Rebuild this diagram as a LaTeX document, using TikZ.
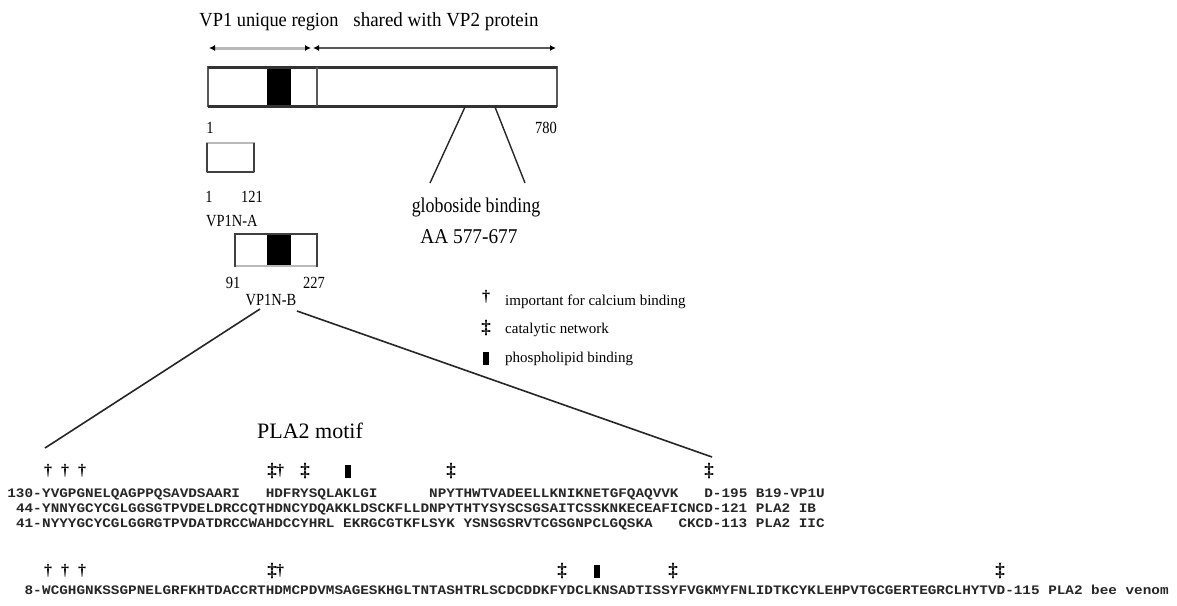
\documentclass[tikz,border=0pt]{standalone}
\usepackage{fontspec}
\usepackage{graphicx}
\setmainfont{Liberation Serif}
\newfontfamily\seqfont{Liberation Mono}
\usetikzlibrary{arrows.meta}
\newcommand\fsz[1]{\fontsize{#1}{#1}\selectfont}
\newcommand\sxs[2]{\scalebox{#1}[1]{#2}}
\newcommand\sq[1]{\sxs{1.1024}{#1}}
\begin{document}
\begin{tikzpicture}[x=1pt,y=-1pt,
  lbl/.style={inner sep=0pt, anchor=base, font=\fsz{20}},
  small/.style={inner sep=0pt, anchor=base, font=\fsz{17}},
  big/.style={inner sep=0pt, anchor=base, font=\fsz{21}},
  legtext/.style={inner sep=0pt, anchor=base west, font=\fsz{15}},
  seqrow/.style={inner sep=0pt, anchor=base west, font=\seqfont\fsz{13}\bfseries, text=black!85},
  seqnum/.style={inner sep=0pt, anchor=base east, font=\seqfont\fsz{13}\bfseries, text=black!85},
  calmark/.style={inner sep=0pt, font=\fsz{16}\bfseries},
  catmark/.style={inner sep=0pt, font=\fsz{19}\bfseries},
  phlmark/.style={inner sep=0pt, fill=black, minimum width=6pt, minimum height=13pt},
  conn/.style={black!85, line width=1.6pt},
  tipk/.style={Latex[length=6pt,width=6pt,black]}
]
\useasboundingbox (0,0) rectangle (1177,605);

% --- top labels and extent arrows
\node[lbl] (uniq) at (269,27) {\sxs{0.92}{VP1 unique region}};
\node[lbl] (shared) at (446,27) {\sxs{0.95}{shared with VP2 protein}};
\coordinate (uA) at (209,48);
\coordinate (uB) at (311,48);
\coordinate (sA) at (313,48);
\coordinate (sB) at (556,48);
\draw[{Latex[length=6pt,width=6pt,black]}-{Latex[length=6pt,width=6pt,black]}, gray!55, line width=3pt] (uA) -- (uB);
\draw[{Latex[length=6pt,width=6pt,black]}-{Latex[length=6pt,width=6pt,black]}, black!65, line width=2pt] (sA) -- (sB);

% --- VP1 full length bar
\fill[black] (267,67) rectangle (291,106);
\draw[gray!70!black, line width=1.5pt] (208,67) rectangle (557,106);
\draw[black!80, line width=3pt] (208,67) -- (557,67) (208,106) -- (557,106);
\draw[gray!70!black, line width=1.5pt] (317,67) -- (317,106);
\node[small] (one) at (210,133) {\sxs{0.85}{1}};
\node[small, anchor=base east] (n780) at (557,133) {\sxs{0.85}{780}};

% --- globoside binding
\coordinate (g1) at (465,107);
\coordinate (g2) at (495,107);
\node[big] (glob) at (476,212) {\sxs{0.85}{globoside binding}};
\node[big] (aa) at (469,243) {\sxs{0.92}{AA 577-677}};
\coordinate (g1e) at (430,183);
\coordinate (g2e) at (525,183);
\draw[conn, line width=1.4pt] (g1) -- (g1e);
\draw[conn, line width=1.4pt] (g2) -- (g2e);

% --- VP1N-A
\draw[gray!55, line width=2pt] (207,143) rectangle (254,172);
\draw[black!75, line width=2pt] (207,172) -- (254,172) (207,143) -- (207,172) (254,143) -- (254,172);
\node[small] (a1) at (209,202) {\sxs{0.85}{1}};
\node[small] (a121) at (252,202) {\sxs{0.85}{121}};
\node[small, anchor=base west] (vpna) at (206,226) {\sxs{0.85}{VP1N-A}};

% --- VP1N-B
\fill[black] (267,234) rectangle (291,266);
\draw[black!75, line width=2pt] (235,234) rectangle (317,266);
\draw[gray!55, line width=2pt] (236,266) -- (316,266);
\node[small] (b91) at (233,288) {\sxs{0.85}{91}};
\node[small] (b227) at (314,288) {\sxs{0.85}{227}};
\node[small] (vpnb) at (271,305) {\sxs{0.85}{VP1N-B}};

% --- legend
\node[calmark] (lg1) at (486,297) {\textdagger};
\node[legtext] (lt1) at (505,305) {important for calcium binding};
\node[catmark] (lg2) at (486,328) {\textdaggerdbl};
\node[legtext] (lt2) at (505,333) {catalytic network};
\node[phlmark] (lg3) at (486,358) {};
\node[legtext] (lt3) at (505,362) {phospholipid binding};

% --- zoom lines
\coordinate (zL) at (260,309);
\coordinate (zR) at (297,311);
\coordinate (zLe) at (45,448);
\coordinate (zRe) at (712,457);
\draw[conn] (zL) -- (zLe);
\draw[conn] (zR) -- (zRe);

\node[inner sep=0pt, anchor=base, font=\fsz{22}] (motif) at (310,438) {PLA2 motif};

% --- markers above the aligned sequences
\foreach \mx [count=\i] in {48,65,82} {
  \node[calmark] (tc\i) at (\mx,471) {\textdagger};
  \node[calmark] (bc\i) at (\mx,571) {\textdagger};
}
\node[catmark] (tk1) at (272,471) {\textdaggerdbl};
\node[calmark] (tc4) at (280,471) {\textdagger};
\node[catmark] (tk2) at (305,471) {\textdaggerdbl};
\node[phlmark] (tp1) at (348,471) {};
\node[catmark] (tk3) at (451,471) {\textdaggerdbl};
\node[catmark] (tk4) at (709,471) {\textdaggerdbl};

\node[catmark] (bk1) at (272,571) {\textdaggerdbl};
\node[calmark] (bc4) at (280,571) {\textdagger};
\node[catmark] (bk2) at (562,571) {\textdaggerdbl};
\node[phlmark] (bp1) at (597,571) {};
\node[catmark] (bk3) at (673,571) {\textdaggerdbl};
\node[catmark] (bk4) at (1000,571) {\textdaggerdbl};

% --- aligned sequences
\node[seqnum] (n1) at (42,497) {\sq{130-}};
\node[seqrow] (s1) at (42,497) {\sq{YVGPGNELQAGPPQSAVDSAARI\phantom{XXX}HDFRYSQLAKLGI\phantom{XXXXXX}NPYTHWTVADEELLKNIKNETGFQAQVVK\phantom{XXX}D-195\phantom{X}B19-VP1U}};
\node[seqnum] (n2) at (42,512) {\sq{44-}};
\node[seqrow] (s2) at (42,512) {\sq{YNNYGCYCGLGGSGTPVDELDRCCQTHDNCYDQAKKLDSCKFLLDNPYTHTYSYSCSGSAITCSSKNKECEAFICNCD-121\phantom{X}PLA2\phantom{X}IB}};
\node[seqnum] (n3) at (42,527) {\sq{41-}};
\node[seqrow] (s3) at (42,527) {\sq{NYYYGCYCGLGGRGTPVDATDRCCWAHDCCYHRL\phantom{X}EKRGCGTKFLSYK\phantom{X}YSNSGSRVTCGSGNPCLGQSKA\phantom{XXX}CKCD-113\phantom{X}PLA2\phantom{X}IIC}};
\node[seqnum] (n4) at (42,594) {\sq{8-}};
\node[seqrow] (s4) at (42,594) {\sq{WCGHGNKSSGPNELGRFKHTDACCRTHDMCPDVMSAGESKHGLTNTASHTRLSCDCDDKFYDCLKNSADTISSYFVGKMYFNLIDTKCYKLEHPVTGCGERTEGRCLHYTVD-115\phantom{X}PLA2\phantom{X}bee\phantom{X}venom}};
\end{tikzpicture}
\end{document}
